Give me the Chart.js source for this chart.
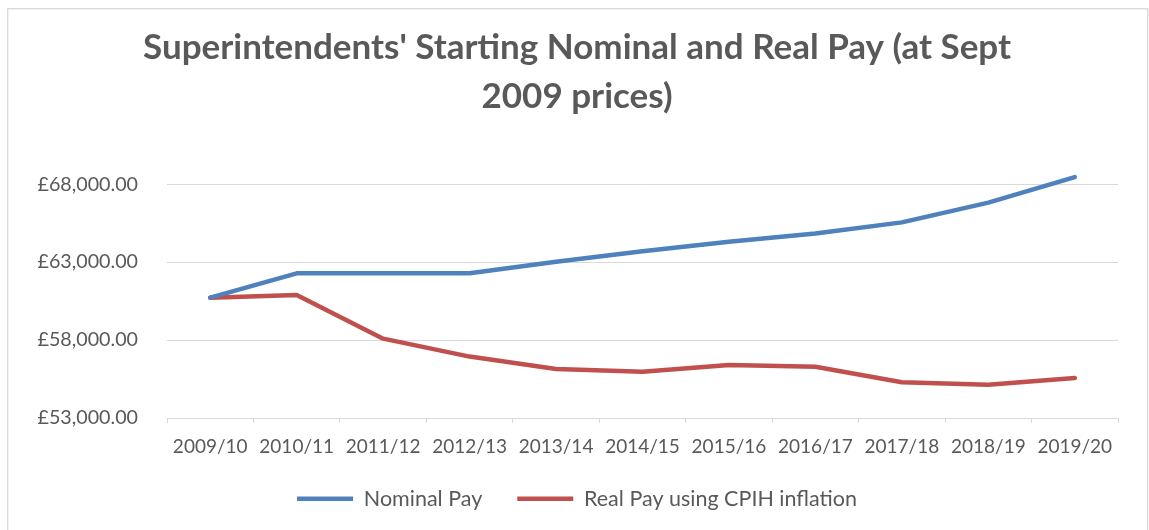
<!DOCTYPE html>
<html>
<head>
<meta charset="utf-8">
<script src="https://cdn.jsdelivr.net/npm/chart.js@4.4.1/dist/chart.umd.min.js"></script>
<style>
  html, body { margin: 0; padding: 0; background: #ffffff; }
  canvas { display: block; }
</style>
</head>
<body>
<canvas id="payChart" width="1149" height="530"></canvas>
<script>
// Financial years on the category axis
const categories = ['2009/10', '2010/11', '2011/12', '2012/13', '2013/14', '2014/15',
                    '2015/16', '2016/17', '2017/18', '2018/19', '2019/20'];

// Starting pay in pounds
const nominalPay  = [60720, 62280, 62280, 62280, 63030, 63700, 64300, 64840, 65550, 66820, 68450];
const realPayCPIH = [60720, 60890, 58090, 56940, 56140, 55970, 56400, 56290, 55290, 55140, 55560];

const seriesNames = ['Nominal Pay', 'Real Pay using CPIH inflation'];
const yTickValues = [53000, 58000, 63000, 68000];
const titleLines  = ["Superintendents' Starting Nominal and Real Pay (at Sept", '2009 prices)'];

const TEXT = '#595959';
const GRID = '#d9d9d9';

const poundFmt = new Intl.NumberFormat('en-GB', { minimumFractionDigits: 2, maximumFractionDigits: 2 });

// White background plus the thin outer frame
const framePlugin = {
  id: 'frame',
  beforeDraw(chart) {
    const ctx = chart.ctx;
    ctx.save();
    ctx.fillStyle = '#ffffff';
    ctx.fillRect(0, 0, chart.width, chart.height);
    ctx.strokeStyle = GRID;
    ctx.lineWidth = 1.3;
    ctx.strokeRect(7.7, 8.7, 1140, 600);
    ctx.restore();
  }
};

// Axis boxes are sized by hand, so let their labels spill past the box edges
const noLabelClip = () => undefined;

const lineStyle = {
  borderWidth: 4.5,
  borderCapStyle: 'round',
  borderJoinStyle: 'round',
  pointRadius: 0,
  pointHoverRadius: 0,
  tension: 0,
  fill: false
};

new Chart(document.getElementById('payChart'), {
  type: 'line',
  data: {
    labels: categories,
    datasets: [
      Object.assign({ label: seriesNames[0], data: nominalPay,  borderColor: '#4f81bd', backgroundColor: '#4f81bd' }, lineStyle),
      Object.assign({ label: seriesNames[1], data: realPayCPIH, borderColor: '#c0504d', backgroundColor: '#c0504d' }, lineStyle)
    ]
  },
  plugins: [framePlugin],
  options: {
    responsive: false,
    devicePixelRatio: 1,
    animation: false,
    events: [],
    layout: { padding: { left: 36, right: 31, top: 0, bottom: 10.5 } },
    plugins: {
      title: {
        display: true,
        text: titleLines,
        color: TEXT,
        font: { family: 'Lato', size: 35, weight: 'bold', lineHeight: '48.3px' },
        padding: { top: 24, bottom: 32.4 }
      },
      legend: {
        display: true,
        position: 'bottom',
        labels: {
          color: TEXT,
          font: { family: 'Lato', size: 21.5 },
          usePointStyle: true,
          pointStyle: 'line',
          pointStyleWidth: 56,
          padding: 35
        }
      },
      tooltip: { enabled: false }
    },
    scales: {
      x: {
        offset: true,
        grid: {
          offset: true,
          drawOnChartArea: false,
          drawTicks: true,
          tickLength: 5,
          color: GRID
        },
        border: { display: true, color: GRID, width: 1 },
        ticks: {
          color: TEXT,
          font: { family: 'Lato', size: 19 },
          padding: 12,
          maxRotation: 0,
          autoSkip: false
        },
        afterFit(scale) {
          scale.height = 35;
          scale._computeLabelArea = noLabelClip;
        }
      },
      y: {
        min: 53000,
        max: 70000,
        grid: { color: GRID, lineWidth: 1, drawTicks: false },
        border: { display: false },
        ticks: {
          color: TEXT,
          font: { family: 'Lato', size: 19.7 },
          padding: 29,
          callback: (v) => '£' + poundFmt.format(v)
        },
        afterBuildTicks(scale) {
          scale.ticks = yTickValues.map(v => ({ value: v }));
        },
        afterFit(scale) {
          scale.width = 131;
          scale._computeLabelArea = noLabelClip;
        }
      }
    }
  }
});
</script>
</body>
</html>
